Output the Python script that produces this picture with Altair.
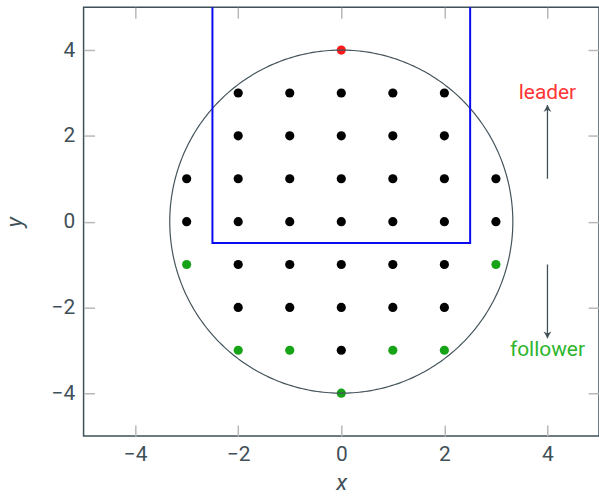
import altair as alt
import numpy as np
import pandas as pd

# Grid of agents: x, y, role
agent_x = [0,
           -2, -1, 0, 1, 2,
           -2, -1, 0, 1, 2,
           -3, -2, -1, 0, 1, 2, 3,
           -3, -2, -1, 0, 1, 2, 3,
           -3, -2, -1, 0, 1, 2, 3,
           -2, -1, 0, 1, 2,
           -2, -1, 0, 1, 2,
           0]
agent_y = [4,
           3, 3, 3, 3, 3,
           2, 2, 2, 2, 2,
           1, 1, 1, 1, 1, 1, 1,
           0, 0, 0, 0, 0, 0, 0,
           -1, -1, -1, -1, -1, -1, -1,
           -2, -2, -2, -2, -2,
           -3, -3, -3, -3, -3,
           -4]
agent_role = (["leader"]
              + ["other"] * 5
              + ["other"] * 5
              + ["other"] * 7
              + ["other"] * 7
              + ["follower"] + ["other"] * 5 + ["follower"]
              + ["other"] * 5
              + ["follower", "follower", "other", "follower", "follower"]
              + ["follower"])

# Sensing range (radius 4, drawn as a true circle on screen) and the open box
radius = 4.0
box_x = [-2.5, -2.5, 2.5, 2.5]
box_y = [5.0, -0.5, -0.5, 5.0]

# Annotation arrows
arrow_x = 4
up_arrow_y = [1.0, 2.72]
down_arrow_y = [-1.0, -2.72]
label_text = ["leader", "follower"]
label_y = [3.0, -3.0]
label_color = ["#ff3535", "#2db52d"]

ticks = [-4, -2, 0, 2, 4]
FONT = "Roboto"
INK = "#3f5058"
W, H = 518, 431

agents = pd.DataFrame({"x": agent_x, "y": agent_y, "role": agent_role})
theta = np.linspace(0, 2 * np.pi, 361)
aspect = H / W  # keep the circle round in screen space
circle = pd.DataFrame({"x": radius * aspect * np.cos(theta),
                       "y": radius * np.sin(theta), "i": range(361)})
box = pd.DataFrame({"x": box_x, "y": box_y, "i": range(len(box_x))})
up = pd.DataFrame({"x": [arrow_x] * 2, "y": up_arrow_y})
down = pd.DataFrame({"x": [arrow_x] * 2, "y": down_arrow_y})
labels = pd.DataFrame({"x": [arrow_x] * 2, "y": label_y, "t": label_text, "c": label_color})

xs = alt.Scale(domain=[-5, 5], nice=False, zero=False)
ys = alt.Scale(domain=[-5, 5], nice=False, zero=False)

def tick_axis(orient):
    return alt.Axis(orient=orient, values=ticks, labels=False, title=None, domain=False,
                    grid=False, ticks=True, tickSize=11, offset=-11,
                    tickColor="#b8b8b8", tickWidth=1.5)

# Label axes (bottom/left) on the agent layer
dots = alt.Chart(agents).mark_circle(size=85, opacity=1).encode(
    x=alt.X("x:Q", scale=xs, axis=alt.Axis(orient="bottom", values=ticks, domain=False, ticks=False,
                                             grid=False, title="x", labelPadding=8,
                                             titleFontStyle="italic", titleFontWeight="normal",
                                             titlePadding=7)),
    y=alt.Y("y:Q", scale=ys, axis=alt.Axis(orient="left", values=ticks, domain=False, ticks=False,
                                             grid=False, title="y", labelPadding=9,
                                             titleFontStyle="italic", titleFontWeight="normal",
                                             titlePadding=25)),
    color=alt.Color("role:N", scale=alt.Scale(domain=["leader", "follower", "other"],
                                                range=["#ff1a1a", "#17a317", "#000000"]), legend=None),
)

# Bottom/left inward ticks on the circle layer
ring = alt.Chart(circle).mark_line(color="#44545c", strokeWidth=1.2).encode(
    x=alt.X("x:Q", scale=xs, axis=tick_axis("bottom")),
    y=alt.Y("y:Q", scale=ys, axis=tick_axis("left")),
    order="i:Q",
)

# Top/right inward ticks on the box layer
frame = alt.Chart(box).mark_line(color="#0a0aee", strokeWidth=2).encode(
    x=alt.X("x:Q", scale=xs, axis=tick_axis("top")),
    y=alt.Y("y:Q", scale=ys, axis=tick_axis("right")),
    order="i:Q",
)

shaft_up = alt.Chart(up).mark_line(color=INK, strokeWidth=1.3).encode(
    x=alt.X("x:Q", scale=xs, axis=None), y=alt.Y("y:Q", scale=ys, axis=None))
shaft_down = alt.Chart(down).mark_line(color=INK, strokeWidth=1.3).encode(
    x=alt.X("x:Q", scale=xs, axis=None), y=alt.Y("y:Q", scale=ys, axis=None))

# Small stealth-style arrow tips
head_up = alt.Chart(up.iloc[[1]]).mark_point(
    shape="M-0.45,0.8L0,0L0.45,0.8L0,0.55Z", size=300, filled=True, color=INK, opacity=1
).encode(x=alt.X("x:Q", scale=xs, axis=None), y=alt.Y("y:Q", scale=ys, axis=None))
head_down = alt.Chart(down.iloc[[1]]).mark_point(
    shape="M-0.45,-0.8L0,0L0.45,-0.8L0,-0.55Z", size=300, filled=True, color=INK, opacity=1
).encode(x=alt.X("x:Q", scale=xs, axis=None), y=alt.Y("y:Q", scale=ys, axis=None))

text = alt.Chart(labels).mark_text(fontSize=21, font=FONT, align="center", baseline="middle").encode(
    x=alt.X("x:Q", scale=xs, axis=None), y=alt.Y("y:Q", scale=ys, axis=None),
    text="t:N", color=alt.Color("c:N", scale=None),
)

chart = alt.layer(dots, ring, frame, shaft_up, shaft_down, head_up, head_down, text).resolve_axis(
    x="independent", y="independent"
).properties(
    width=W, height=H,
    autosize=alt.AutoSizeParams(type="none"),
    padding={"left": 84, "top": 6, "right": 0, "bottom": 59},
).configure_view(
    stroke=INK, strokeWidth=1.5
).configure_axis(
    labelFont=FONT, titleFont=FONT, labelFontSize=21, titleFontSize=23,
    labelColor=INK, titleColor=INK,
)

chart.save("out.html", embed_options={"renderer": "svg", "actions": False})
